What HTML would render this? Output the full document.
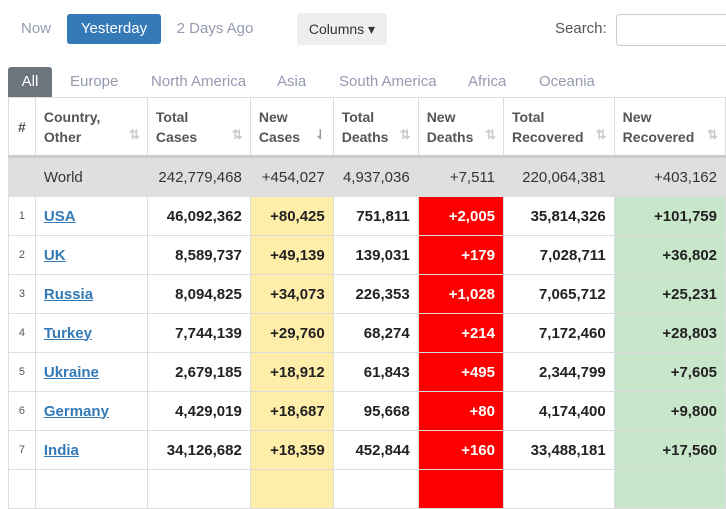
<!DOCTYPE html>
<html><head><meta charset="utf-8"><style>
body{margin:0;width:726px;height:472px;overflow:hidden;background:#fff;font-family:"Liberation Sans",sans-serif;position:relative}
.btn{position:absolute;font-size:15px;line-height:30px;text-align:center;color:#959ab0}
table{position:absolute;left:8px;top:97px;border-collapse:collapse;table-layout:fixed;font-size:15px}
td,th{border:1px solid #ddd;padding:0 8px;overflow:hidden;white-space:nowrap}
th{height:57px;text-align:left;font-size:14px;color:#555;font-weight:bold;line-height:20px;position:relative;border-bottom:3px solid #ccc}
th .s{position:absolute;right:7px;bottom:10px;color:#ccc;font-size:13px}
td{height:38px;text-align:right;font-weight:bold;color:#222}
tr.w td{background:#dfdfdf;font-weight:normal;color:#333}
td.c{text-align:left}
td.n{text-align:center;font-weight:normal;font-size:11px;color:#555}
td.c a{color:#337ab7;text-decoration:underline}
.y{background:#ffeeaa}.r{background:#f00;color:#fff!important}.g{background:#c8e6c9}
</style></head><body>
<div class="btn" style="left:14px;top:14px;width:44px">Now</div>
<div class="btn" style="left:67px;top:14px;width:94px;background:#337ab7;color:#fff;border-radius:3px">Yesterday</div>
<div class="btn" style="left:170px;top:14px;width:90px">2 Days Ago</div>
<div class="btn" style="left:297px;top:13px;width:90px;height:32px;line-height:32px;background:#eee;color:#333;border-radius:3px;font-size:14px">Columns ▾</div>
<div class="btn" style="left:555px;top:14px;color:#555">Search:</div>
<div style="position:absolute;left:616px;top:14px;width:120px;height:30px;border:1px solid #ccc;border-radius:4px"></div>
<div class="btn" style="left:8px;top:67px;width:44px;background:#6c757d;color:#fff;border-radius:3px 3px 0 0">All</div>
<div class="btn" style="left:70px;top:67px">Europe</div>
<div class="btn" style="left:151px;top:67px">North America</div>
<div class="btn" style="left:277px;top:67px">Asia</div>
<div class="btn" style="left:339px;top:67px">South America</div>
<div class="btn" style="left:468px;top:67px">Africa</div>
<div class="btn" style="left:539px;top:67px">Oceania</div>
<table>
<colgroup><col style="width:27px"><col style="width:113px"><col style="width:103px"><col style="width:83px"><col style="width:85px"><col style="width:86px"><col style="width:111px"><col style="width:112px"></colgroup>
<tr>
<th style="vertical-align:middle;padding:0;text-align:center">#</th>
<th>Country,<br>Other<span class="s">⇅</span></th>
<th>Total<br>Cases<span class="s">⇅</span></th>
<th>New<br>Cases<span class="s" style="color:#999">⇃</span></th>
<th>Total<br>Deaths<span class="s">⇅</span></th>
<th>New<br>Deaths<span class="s">⇅</span></th>
<th>Total<br>Recovered<span class="s">⇅</span></th>
<th>New<br>Recovered<span class="s">⇅</span></th></tr>
<tr class="w"><td></td><td class="c">World</td><td>242,779,468</td><td>+454,027</td><td>4,937,036</td><td>+7,511</td><td>220,064,381</td><td>+403,162</td></tr>
<tr><td class="n">1</td><td class="c"><a>USA</a></td><td>46,092,362</td><td class="y">+80,425</td><td>751,811</td><td class="r">+2,005</td><td>35,814,326</td><td class="g">+101,759</td></tr>
<tr><td class="n">2</td><td class="c"><a>UK</a></td><td>8,589,737</td><td class="y">+49,139</td><td>139,031</td><td class="r">+179</td><td>7,028,711</td><td class="g">+36,802</td></tr>
<tr><td class="n">3</td><td class="c"><a>Russia</a></td><td>8,094,825</td><td class="y">+34,073</td><td>226,353</td><td class="r">+1,028</td><td>7,065,712</td><td class="g">+25,231</td></tr>
<tr><td class="n">4</td><td class="c"><a>Turkey</a></td><td>7,744,139</td><td class="y">+29,760</td><td>68,274</td><td class="r">+214</td><td>7,172,460</td><td class="g">+28,803</td></tr>
<tr><td class="n">5</td><td class="c"><a>Ukraine</a></td><td>2,679,185</td><td class="y">+18,912</td><td>61,843</td><td class="r">+495</td><td>2,344,799</td><td class="g">+7,605</td></tr>
<tr><td class="n">6</td><td class="c"><a>Germany</a></td><td>4,429,019</td><td class="y">+18,687</td><td>95,668</td><td class="r">+80</td><td>4,174,400</td><td class="g">+9,800</td></tr>
<tr><td class="n">7</td><td class="c"><a>India</a></td><td>34,126,682</td><td class="y">+18,359</td><td>452,844</td><td class="r">+160</td><td>33,488,181</td><td class="g">+17,560</td></tr>
<tr><td></td><td></td><td></td><td class="y"></td><td></td><td class="r"></td><td></td><td class="g"></td></tr>
</table>
</body></html>
